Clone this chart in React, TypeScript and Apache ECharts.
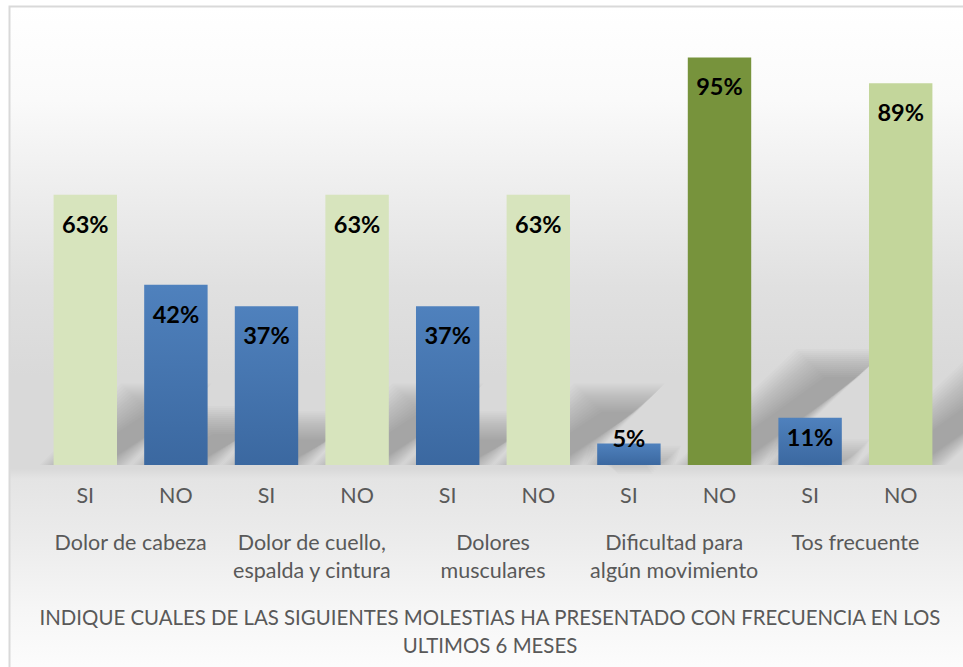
import React, { useEffect, useRef } from "react";
import * as echarts from "echarts";

const groups = [
  "Dolor de cabeza",
  "Dolor de cuello,\nespalda y cintura",
  "Dolores\nmusculares",
  "Dificultad para\nalgún movimiento",
  "Tos frecuente",
];
const answers = ["SI", "NO", "SI", "NO", "SI", "NO", "SI", "NO", "SI", "NO"];
const values = [63, 42, 37, 63, 37, 63, 5, 95, 11, 89];
const barKinds = ["light", "blue", "blue", "light", "blue", "light", "blue", "dark", "blue", "light2"];
const titleText =
  "INDIQUE CUALES DE LAS SIGUIENTES MOLESTIAS HA PRESENTADO CON FRECUENCIA EN LOS\nULTIMOS 6 MESES";

const FONT = "Lato, 'Open Sans', sans-serif";

function colorFor(kind: string) {
  if (kind === "light") return "#d7e4bd";
  if (kind === "light2") return "#c3d69b";
  if (kind === "dark") return "#77933c";
  return new echarts.graphic.LinearGradient(0, 0, 0, 1, [
    { offset: 0, color: "#4f81bd" },
    { offset: 1, color: "#3b68a0" },
  ]);
}

export default function App() {
  const ref = useRef<HTMLDivElement>(null);
  useEffect(() => {
    if (!ref.current) return;
    const chart = echarts.init(ref.current, undefined, { renderer: "svg" });
    const barData = values.map((v, i) => {
      const item: any = { value: v, itemStyle: { color: colorFor(barKinds[i]) } };
      if (v < 8) {
        item.label = { position: "top", distance: -6 };
      } else if (v < 15) {
        item.label = { position: "insideTop", distance: 7 };
      }
      return item;
    });
    const shadowData = values.map((v, i) => [i, v]);
    chart.setOption({
      animation: false,
      backgroundColor: "#ffffff",
      graphic: [
        {
          type: "rect",
          z: -10,
          shape: { x: 9.5, y: 6.5, width: 962, height: 670 },
          style: {
            fill: new echarts.graphic.LinearGradient(0, 0, 0, 1, [
              { offset: 0, color: "#ffffff" },
              { offset: 0.14, color: "#fafafa" },
              { offset: 0.28, color: "#ededed" },
              { offset: 0.42, color: "#e0e0e0" },
              { offset: 0.55, color: "#d9d9d9" },
              { offset: 0.69, color: "#d9d9d9" },
              { offset: 0.705, color: "#e4e4e4" },
              { offset: 0.8, color: "#ececec" },
              { offset: 0.9, color: "#f6f6f6" },
              { offset: 1, color: "#fdfdfd" },
            ]),
            stroke: "#d9d9d9",
            lineWidth: 2,
          },
        },
        {
          type: "text",
          x: 490,
          y: 631,
          style: {
            text: titleText,
            fill: "#595959",
            font: "20.4px " + FONT,
            align: "center",
            verticalAlign: "middle",
            lineHeight: 28,
          },
        },
      ],
      grid: { left: 40, right: 17, top: 36, bottom: 202 },
      xAxis: [
        {
          type: "category",
          data: answers,
          axisLine: { show: false },
          axisTick: { show: false },
          axisLabel: { color: "#595959", fontSize: 21.5, fontFamily: FONT, margin: 19, interval: 0 },
        },
        {
          type: "category",
          data: groups,
          position: "bottom",
          axisLine: { show: false },
          axisTick: { show: false },
          axisLabel: {
            color: "#595959",
            fontSize: 21.5,
            fontFamily: FONT,
            margin: 63,
            lineHeight: 28,
            verticalAlign: "top",
            interval: 0,
          },
        },
      ],
      yAxis: { type: "value", min: 0, max: 100, show: false, splitLine: { show: false } },
      series: [
        {
          type: "custom",
          xAxisIndex: 0,
          z: 1,
          silent: true,
          data: shadowData,
          renderItem: (params: any, api: any) => {
            const idx = api.value(0);
            const val = api.value(1);
            const base = api.coord([idx, 0]);
            const top = api.coord([idx, val]);
            const h = base[1] - top[1];
            const bw = api.size([1, 0])[0] * 0.7;
            const x0 = base[0] - bw / 2;
            const x1 = base[0] + bw / 2;
            const dx = h * 0.3;
            const dy = h * 0.25;
            const layers: any[] = [];
            const n = 15;
            for (let k = 0; k < n; k++) {
              const e = (k - (n - 1) / 2) * 2;
              layers.push({
                type: "polygon",
                shape: {
                  points: [
                    [x0 - e, base[1]],
                    [x1 + e, base[1]],
                    [x1 + dx + e, base[1] - dy - e],
                    [x0 + dx - e, base[1] - dy - e],
                  ],
                },
                style: { fill: "rgba(0,0,0,0.017)" },
              });
            }
            return { type: "group", children: layers };
          },
        },
        {
          type: "bar",
          xAxisIndex: 0,
          z: 2,
          barWidth: "70%",
          data: barData,
          label: {
            show: true,
            position: "insideTop",
            distance: 17,
            formatter: "{c}%",
            color: "#000000",
            fontSize: 23.5,
            fontWeight: "bold",
            fontFamily: FONT,
          },
        },
      ],
    });
    return () => chart.dispose();
  }, []);
  return (
    <div
      ref={ref}
      style={{ position: "absolute", left: 0, top: 0, width: 963, height: 667 }}
    />
  );
}
